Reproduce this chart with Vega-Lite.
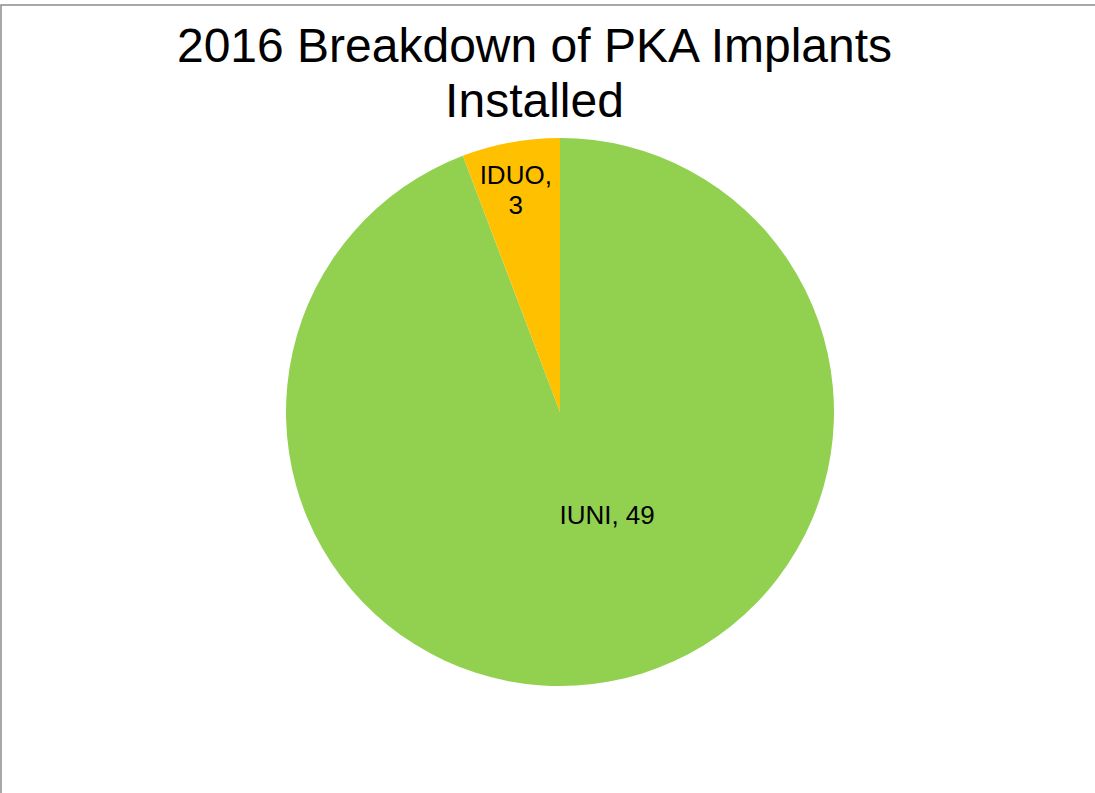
{
  "$schema": "https://vega.github.io/schema/vega-lite/v6.json",
  "width": 1118,
  "height": 814,
  "padding": {"left": 1, "top": 5, "right": 0, "bottom": 0},
  "background": "white",
  "view": {"stroke": "#8c8c8c", "strokeWidth": 1.5, "fill": "white"},
  "title": {
    "text": ["2016 Breakdown of PKA Implants", "Installed"],
    "font": "Liberation Sans",
    "fontSize": 48,
    "fontWeight": "normal",
    "color": "#000000",
    "lineHeight": 55,
    "anchor": "middle",
    "frame": "group",
    "baseline": "alphabetic",
    "offset": -160,
    "dx": -25.5
  },
  "data": {
    "values": [
      {"category": "IUNI", "count": 49},
      {"category": "IDUO", "count": 3}
    ]
  },
  "encoding": {
    "theta": {"field": "count", "type": "quantitative", "stack": true},
    "order": {"field": "count", "type": "quantitative", "sort": "descending"}
  },
  "layer": [
    {
      "mark": {"type": "arc", "radius": 274},
      "encoding": {
        "color": {
          "field": "category",
          "type": "nominal",
          "scale": {"domain": ["IUNI", "IDUO"], "range": ["#92D050", "#FFC000"]},
          "legend": null
        }
      }
    },
    {
      "transform": [
        {"calculate": "datum.category == 'IUNI' ? datum.category + ', ' + datum.count : ''", "as": "label"}
      ],
      "mark": {"type": "text", "radius": 106, "dx": 28, "font": "Liberation Sans", "fontSize": 26, "baseline": "middle", "align": "center", "color": "#000000"},
      "encoding": {"text": {"field": "label"}}
    },
    {
      "transform": [
        {"calculate": "datum.category == 'IDUO' ? [datum.category + ',', '' + datum.count] : ''", "as": "label"}
      ],
      "mark": {"type": "text", "radius": 240, "dx": -1, "font": "Liberation Sans", "fontSize": 26, "lineHeight": 30, "baseline": "middle", "align": "center", "color": "#000000"},
      "encoding": {"text": {"field": "label"}}
    }
  ]
}
